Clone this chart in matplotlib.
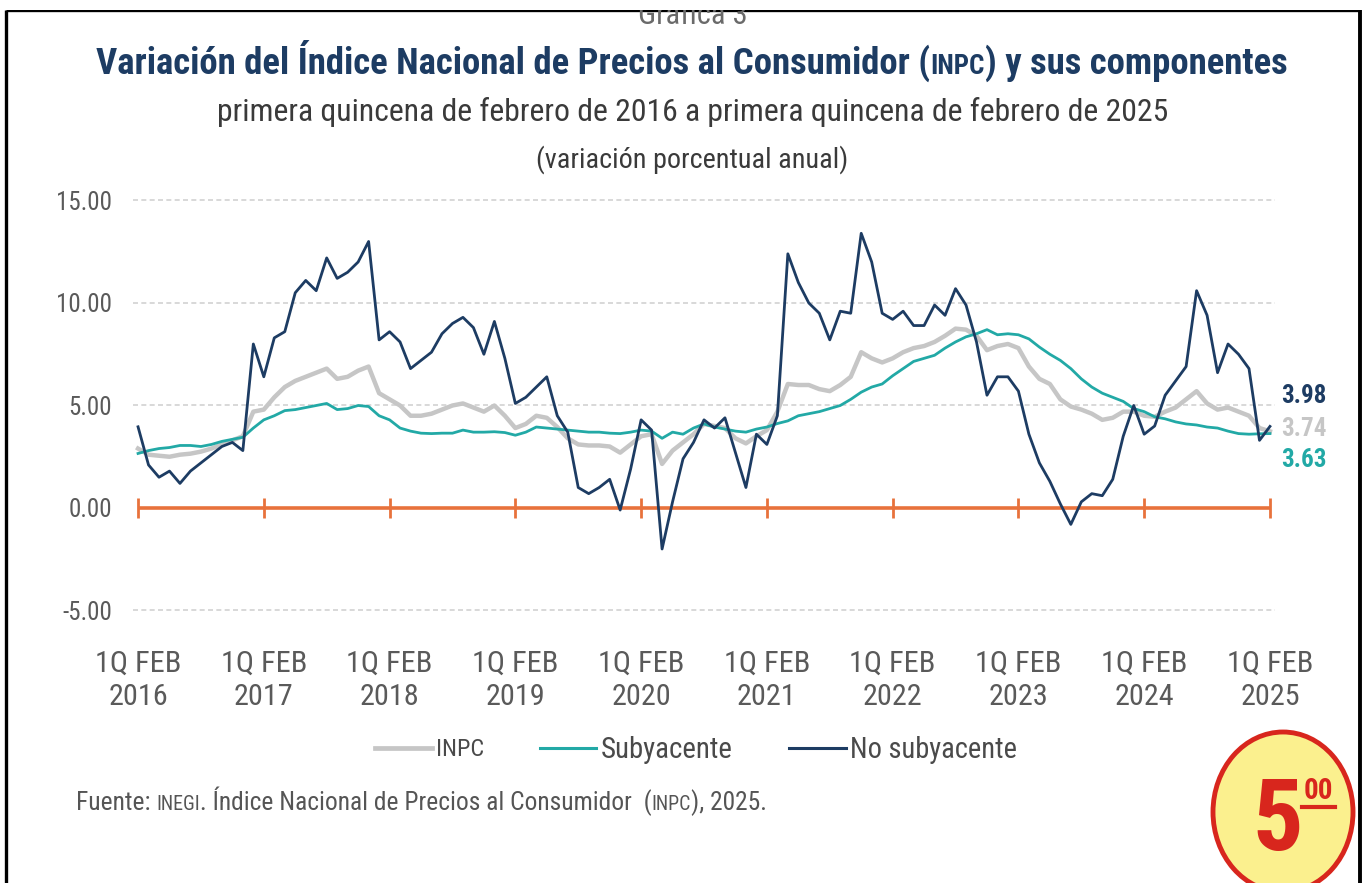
import numpy as np
import matplotlib
matplotlib.use("Agg")
import matplotlib.pyplot as plt
from matplotlib import font_manager
from matplotlib.patches import Ellipse, Rectangle

# the reference uses a narrow sans; take one if it is installed
installed = {f.name for f in font_manager.fontManager.ttflist}
narrow = [n for n in ['Liberation Sans Narrow', 'Arial Narrow', 'Roboto Condensed',
                      'Open Sans Condensed', 'Nimbus Sans Narrow'] if n in installed]
plt.rcParams['font.family'] = narrow[:1] + ['Liberation Sans', 'DejaVu Sans']

# monthly readings, 1Q Feb 2016 ... 1Q Feb 2025
years = [2016, 2017, 2018, 2019, 2020, 2021, 2022, 2023, 2024, 2025]

inpc = [2.90, 2.60, 2.55, 2.50, 2.60, 2.65, 2.75, 2.90, 3.10, 3.30, 3.50, 4.70,
        4.80, 5.40, 5.90, 6.20, 6.40, 6.60, 6.80, 6.30, 6.40, 6.70, 6.90, 5.60,
        5.30, 5.00, 4.50, 4.50, 4.60, 4.80, 5.00, 5.10, 4.90, 4.70, 5.00, 4.50,
        3.90, 4.10, 4.50, 4.40, 3.95, 3.40, 3.10, 3.05, 3.05, 3.00, 2.70, 3.10,
        3.50, 3.60, 2.15, 2.80, 3.20, 3.60, 4.10, 4.00, 3.90, 3.40, 3.15, 3.50,
        3.80, 4.70, 6.05, 6.00, 6.00, 5.80, 5.70, 6.00, 6.40, 7.60, 7.30, 7.10,
        7.30, 7.60, 7.80, 7.90, 8.10, 8.40, 8.75, 8.70, 8.40, 7.70, 7.90, 8.00,
        7.80, 6.90, 6.30, 6.05, 5.30, 4.95, 4.80, 4.60, 4.30, 4.40, 4.70, 4.70,
        4.50, 4.45, 4.70, 4.90, 5.30, 5.70, 5.10, 4.80, 4.90, 4.70, 4.50, 3.90,
        3.74]

subyacente = [2.66, 2.80, 2.90, 2.95, 3.05, 3.05, 3.00, 3.10, 3.25, 3.35, 3.45, 3.90,
              4.30, 4.50, 4.75, 4.80, 4.90, 5.00, 5.10, 4.80, 4.85, 5.00, 4.95, 4.50,
              4.30, 3.90, 3.75, 3.65, 3.63, 3.65, 3.65, 3.80, 3.70, 3.70, 3.72, 3.68,
              3.55, 3.70, 3.95, 3.90, 3.85, 3.80, 3.75, 3.70, 3.70, 3.65, 3.63, 3.70,
              3.80, 3.75, 3.40, 3.70, 3.60, 3.90, 4.10, 3.95, 3.85, 3.75, 3.70, 3.85,
              3.95, 4.12, 4.25, 4.50, 4.60, 4.70, 4.85, 5.00, 5.30, 5.65, 5.90, 6.05,
              6.45, 6.80, 7.15, 7.30, 7.45, 7.80, 8.10, 8.35, 8.50, 8.70, 8.45, 8.50,
              8.45, 8.25, 7.85, 7.50, 7.20, 6.80, 6.30, 5.90, 5.60, 5.40, 5.20, 4.85,
              4.70, 4.45, 4.35, 4.20, 4.10, 4.05, 3.95, 3.90, 3.75, 3.63, 3.60, 3.62,
              3.63]

no_subyacente = [3.96, 2.10, 1.50, 1.80, 1.20, 1.80, 2.20, 2.60, 3.00, 3.20, 2.80, 8.00,
                 6.40, 8.30, 8.60, 10.50, 11.10, 10.60, 12.20, 11.20, 11.50, 12.00, 13.00, 8.20,
                 8.60, 8.10, 6.80, 7.20, 7.60, 8.50, 9.00, 9.30, 8.80, 7.50, 9.10, 7.30,
                 5.10, 5.40, 5.90, 6.40, 4.50, 3.70, 1.00, 0.70, 1.00, 1.40, -0.10, 1.90,
                 4.30, 3.80, -2.00, 0.30, 2.40, 3.20, 4.30, 3.90, 4.40, 2.70, 1.00, 3.60,
                 3.10, 4.50, 12.40, 11.00, 10.00, 9.50, 8.20, 9.60, 9.50, 13.40, 12.00, 9.50,
                 9.20, 9.60, 8.90, 8.90, 9.90, 9.40, 10.70, 9.90, 8.10, 5.50, 6.40, 6.40,
                 5.70, 3.60, 2.20, 1.30, 0.20, -0.80, 0.30, 0.70, 0.60, 1.40, 3.50, 5.00,
                 3.60, 4.00, 5.50, 6.20, 6.90, 10.60, 9.40, 6.60, 8.00, 7.50, 6.80, 3.30,
                 3.98]

yticks = [-5, 0, 5, 10, 15]

NAVY = '#1d3c63'
TEAL = '#22a9a6'
GRAY = '#c6c6c6'
ORANGE = '#e8723c'
TXT = '#5a5a5a'

W, H = 1371, 883
fig = plt.figure(figsize=(W / 100, H / 100), dpi=100)
fig.patch.set_facecolor('white')
renderer = fig.canvas.get_renderer()


def width_of(txt):
    return txt.get_window_extent(renderer).width


def fit_size(txt, target):
    # scale the font so the text spans the width it has in the reference
    txt.set_fontsize(txt.get_fontsize() * target / width_of(txt))


# main axes placed in pixel terms
x_lo, x_hi = -0.5, 108.5
y_lo, y_hi = -5.3, 15.3
px_left, px_right = 132.8, 1275.2
px_top, px_bot = 508 - 20.5 * y_hi, 508 - 20.5 * y_lo
ax = fig.add_axes([px_left / W, 1 - px_bot / H, (px_right - px_left) / W, (px_bot - px_top) / H])

t = np.arange(len(inpc))
ax.plot(t, inpc, color=GRAY, lw=3.2, solid_joinstyle='round', zorder=3)
ax.plot(t, subyacente, color=TEAL, lw=2.0, solid_joinstyle='round', zorder=4)
ax.plot(t, no_subyacente, color=NAVY, lw=2.0, solid_joinstyle='round', zorder=5)

year_pos = t[::12]
for v in yticks:
    if v != 0:
        ax.axhline(v, color='#d2d2d2', lw=1.2, ls=(0, (3, 2)), zorder=1)
ax.hlines(0, t[0], t[-1], color=ORANGE, lw=2.6, zorder=2)
ax.vlines(year_pos, -0.5, 0.5, color=ORANGE, lw=2.0, zorder=2)

ax.set_xlim(x_lo, x_hi)
ax.set_ylim(y_lo, y_hi)
ax.set_yticks(yticks)
ax.set_xticks(year_pos)

probe = fig.text(0, 0, "1Q FEB", fontsize=20)
tick_fs = probe.get_fontsize() * 86 / width_of(probe)
probe.set_text("15.00")
probe.set_fontsize(20)
ytick_fs = probe.get_fontsize() * 56 / width_of(probe)
probe.remove()

ax.set_yticklabels([f"{v:.2f}" for v in yticks])
ax.set_xticklabels([f"1Q FEB\n{y}" for y in years], linespacing=1.25)
ax.tick_params(axis='y', length=0, pad=15, labelsize=ytick_fs, labelcolor=TXT)
ax.tick_params(axis='x', length=0, pad=24, labelsize=tick_fs, labelcolor=TXT)
for s in ax.spines.values():
    s.set_visible(False)

# end-of-series labels
end_kw = dict(textcoords='offset points', fontsize=18, fontweight='bold', va='center')
ax.annotate(f"{no_subyacente[-1]:.2f}", (t[-1], no_subyacente[-1]), xytext=(8, 22),
            color=NAVY, **end_kw)
ax.annotate(f"{inpc[-1]:.2f}", (t[-1], inpc[-1]), xytext=(8, 2), color=GRAY, **end_kw)
ax.annotate(f"{subyacente[-1]:.2f}", (t[-1], subyacente[-1]), xytext=(8, -19),
            color=TEAL, **end_kw)

# overlay in pixel units for titles, legend, source, frame, badge
ov = fig.add_axes([0, 0, 1, 1], zorder=10)
ov.set_xlim(0, W)
ov.set_ylim(H, 0)
ov.axis('off')


def rich(x, y, parts, target, center=True, **common):
    items = [ov.text(0, y, s, va='baseline', ha='left', fontsize=fs, **common)
             for s, fs in parts]
    k = target / sum(width_of(it) for it in items)
    for it in items:
        it.set_fontsize(it.get_fontsize() * k)
    widths = [width_of(it) for it in items]
    cur = x - sum(widths) / 2 if center else x
    for it, w in zip(items, widths):
        it.set_x(cur)
        cur += w


ov.text(693, 24, "Gráfica 3", ha='center', va='baseline', fontsize=22, color='#6a6a6a')
ov.add_patch(Rectangle((0, 0), W, 10, facecolor='white', edgecolor='none', zorder=5))

rich(692, 74, [("Variación del Índice Nacional de Precios al Consumidor (", 26),
               ("INPC", 19), (") y sus componentes", 26)],
     1195, color=NAVY, fontweight='bold')
sub = ov.text(693, 112, "primera quincena de febrero de 2016 a primera quincena de febrero de 2025",
              ha='center', va='center', fontsize=20, color='#3a3a3a')
fit_size(sub, 950)
unit = ov.text(692, 160, "(variación porcentual anual)", ha='center', va='center', fontsize=18,
               color='#3a3a3a')
fit_size(unit, 311)

# legend
leg = [(375, 432, 436, GRAY, 3.4, "INPC", 48),
       (540, 596, 601, TEAL, 2.2, "Subyacente", 132),
       (789, 846, 850, NAVY, 2.2, "No subyacente", 167)]
for x0, x1, xt, col, lw, lab, wt in leg:
    ov.plot([x0, x1], [748, 748], color=col, lw=lw)
    lt = ov.text(xt, 750, lab, ha='left', va='center', fontsize=18, color='#4a4a4a')
    fit_size(lt, wt)

rich(76, 810, [("Fuente: ", 18), ("INEGI", 14),
               (". Índice Nacional de Precios al Consumidor  (", 18),
               ("INPC", 14), ("), 2025.", 18)],
     693, center=False, color='#555555')

# frame
ov.plot([6, 6], [10, H], color='black', lw=2.4, solid_capstyle='butt')
ov.plot([6, 1360], [10, 10], color='black', lw=2.4, solid_capstyle='butt')
ov.plot([1360, 1360], [10, H], color='black', lw=2.8, solid_capstyle='butt')

# price badge
ov.add_patch(Ellipse((1283, 812), 140, 160, facecolor='#fbf08e', edgecolor='#d8261d', lw=3.5, zorder=6))
ov.text(1278, 850, "5", ha='center', va='baseline', fontsize=72, fontweight='bold',
        color='#d8261d', zorder=7)
ov.text(1318, 799, "00", ha='center', va='baseline', fontsize=21, fontweight='bold',
        color='#d8261d', zorder=7)
ov.plot([1302, 1335], [807, 807], color='#d8261d', lw=3, zorder=7)

fig.savefig("out.png", dpi=100)
